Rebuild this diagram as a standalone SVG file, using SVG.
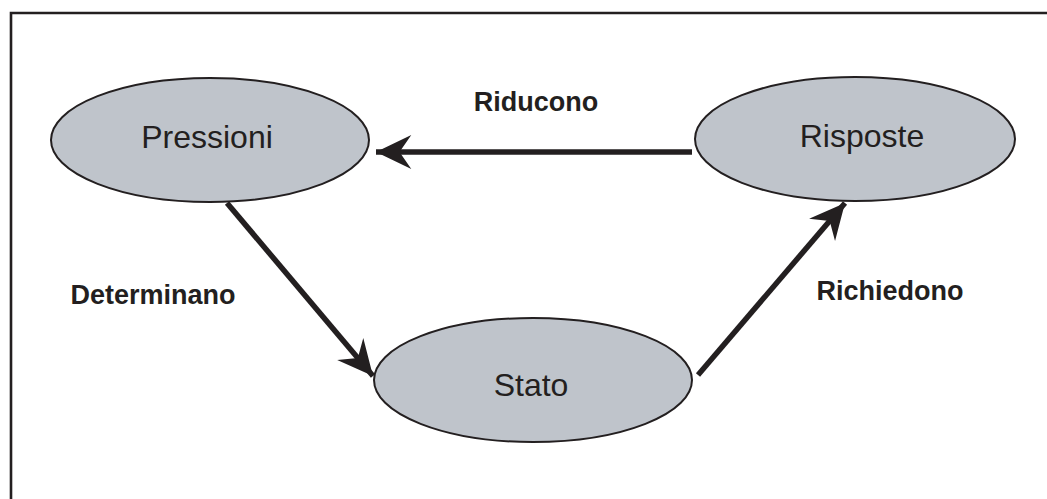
<svg xmlns="http://www.w3.org/2000/svg" width="1047" height="499" viewBox="0 0 1047 499">
<style>
.node ellipse{fill:#bfc4cb;stroke:#231f20;stroke-width:2}
.node text{font-family:"Liberation Sans",Arial,sans-serif;font-size:32px;fill:#231f20;text-anchor:middle}
.lbl{font-family:"Liberation Sans",Arial,sans-serif;font-size:27px;font-weight:bold;fill:#231f20}
.edge{stroke:#231f20;stroke-width:5.5;fill:none;marker-end:url(#ah)}
</style>
<defs>
<marker id="ah" markerUnits="userSpaceOnUse" markerWidth="40" markerHeight="40" viewBox="-32 -16 34 32" refX="0" refY="0" orient="auto">
<path d="M0,0 L-30,-14.5 L-20,0 L-30,14.5 Z" fill="#231f20"/>
</marker>
</defs>
<rect x="0" y="0" width="1047" height="499" fill="#fff"/>
<path d="M11,499 V13 H1047" fill="none" stroke="#231f20" stroke-width="2.6"/>
<g id="connectors">
<line class="edge" x1="692" y1="152" x2="376" y2="152"/>
<line class="edge" x1="227" y1="203" x2="373" y2="376"/>
<line class="edge" x1="698" y1="375" x2="845" y2="203"/>
</g>
<g id="labels">
<text class="lbl" x="536" y="111" text-anchor="middle">Riducono</text>
<text class="lbl" x="153" y="304" text-anchor="middle">Determinano</text>
<text class="lbl" x="890" y="300" text-anchor="middle">Richiedono</text>
</g>
<g id="pressioni" class="node">
<ellipse cx="210" cy="140" rx="159" ry="62"/>
<text x="207" y="148">Pressioni</text>
</g>
<g id="stato" class="node">
<ellipse cx="533" cy="380" rx="159" ry="62"/>
<text x="531" y="396">Stato</text>
</g>
<g id="risposte" class="node">
<ellipse cx="855" cy="139" rx="160" ry="62"/>
<text x="862" y="147">Risposte</text>
</g>
</svg>
